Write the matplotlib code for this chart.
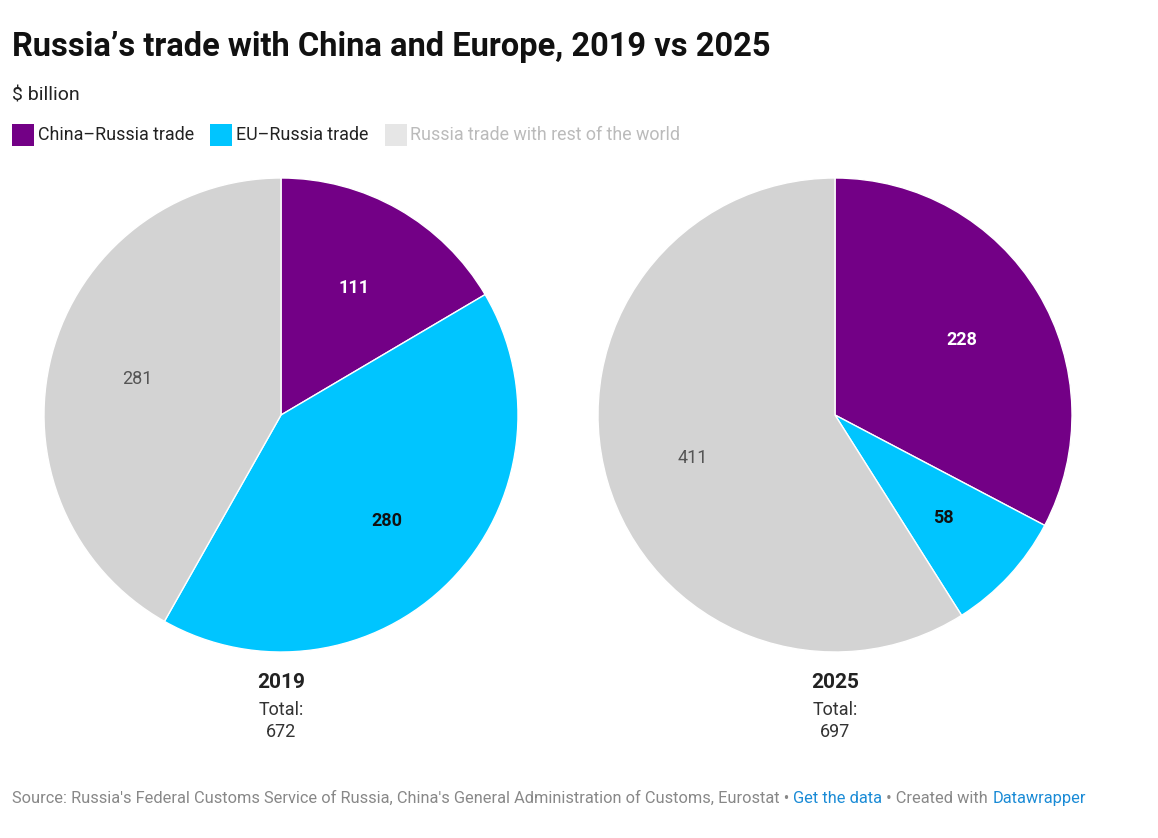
import matplotlib
matplotlib.use("Agg")
import matplotlib.pyplot as plt
from matplotlib.patches import Rectangle

plt.rcParams["font.family"] = ["Roboto", "DejaVu Sans"]

# data
categories = ["China\u2013Russia trade", "EU\u2013Russia trade", "Russia trade with rest of the world"]
years = ["2019", "2025"]
values_2019 = [111, 280, 281]
values_2025 = [228, 58, 411]
totals = [672, 697]

pie_colors = ["#730086", "#00c5ff", "#d3d3d3"]
legend_colors = ["#730086", "#00c5ff", "#e6e6e6"]
legend_text_colors = ["#222222", "#222222", "#bbbbbb"]
label_colors = ["white", "#111111", "#555555"]
label_weights = ["bold", "bold", "normal"]

W, H = 1158, 838
fig = plt.figure(figsize=(W / 100, H / 100), dpi=100)


def px(x, y):
    """pixel coords (from top-left) -> figure fraction"""
    return x / W, 1 - y / H


# title / subtitle
fig.text(*px(12, 47), "Russia\u2019s trade with China and Europe, 2019 vs 2025",
         fontsize=23.5, fontweight="bold", color="#111111", va="center", ha="left")
fig.text(*px(12, 95), "$ billion", fontsize=14, color="#222222", va="center", ha="left")

# legend
fig.canvas.draw()
renderer = fig.canvas.get_renderer()
x = 12
for name, col, tcol in zip(categories, legend_colors, legend_text_colors):
    fig.patches.append(Rectangle(px(x, 146), 22 / W, 22 / H, transform=fig.transFigure,
                                 facecolor=col, edgecolor="none"))
    t = fig.text(*px(x + 26, 135), name, fontsize=12.9, color=tcol, va="center", ha="left")
    bb = t.get_window_extent(renderer)
    x = x + 26 + bb.width + 16

# pies
centers_x = [281, 835]
cy, r = 415, 237
for cx, vals, year, total in zip(centers_x, [values_2019, values_2025], years, totals):
    left, bottom = px(cx - r, cy + r)
    ax = fig.add_axes([left, bottom, 2 * r / W, 2 * r / H])
    wedges, texts = ax.pie(vals, colors=pie_colors, startangle=90, counterclock=False,
                           labels=[str(v) for v in vals], labeldistance=0.625,
                           wedgeprops=dict(edgecolor="white", linewidth=1))
    for t, c, w in zip(texts, label_colors, label_weights):
        t.set_ha("center")
        t.set_va("center_baseline")
        t.set_color(c)
        t.set_fontweight(w)
        t.set_fontsize(13)
    ax.set_xlim(-1, 1)
    ax.set_ylim(-1, 1)
    ax.set_aspect("equal")
    ax.axis("off")

    fig.text(*px(cx, 682), year, fontsize=15, fontweight="bold", color="#222222",
             ha="center", va="center")
    fig.text(*px(cx, 710), "Total:", fontsize=13, color="#333333", ha="center", va="center")
    fig.text(*px(cx, 732), str(total), fontsize=13, color="#333333", ha="center", va="center")

# footer
parts = [
    ("Source: Russia's Federal Customs Service of Russia, China's General Administration of Customs, Eurostat \u2022 ", "#888888"),
    ("Get the data", "#1a8bd6"),
    (" \u2022 Created with ", "#888888"),
    ("Datawrapper", "#1a8bd6"),
]
x = 12
for s, col in parts:
    t = fig.text(*px(x, 798), s, fontsize=11.8, color=col, ha="left", va="center")
    bb = t.get_window_extent(renderer)
    x += bb.width

fig.savefig("out.png", dpi=100)
